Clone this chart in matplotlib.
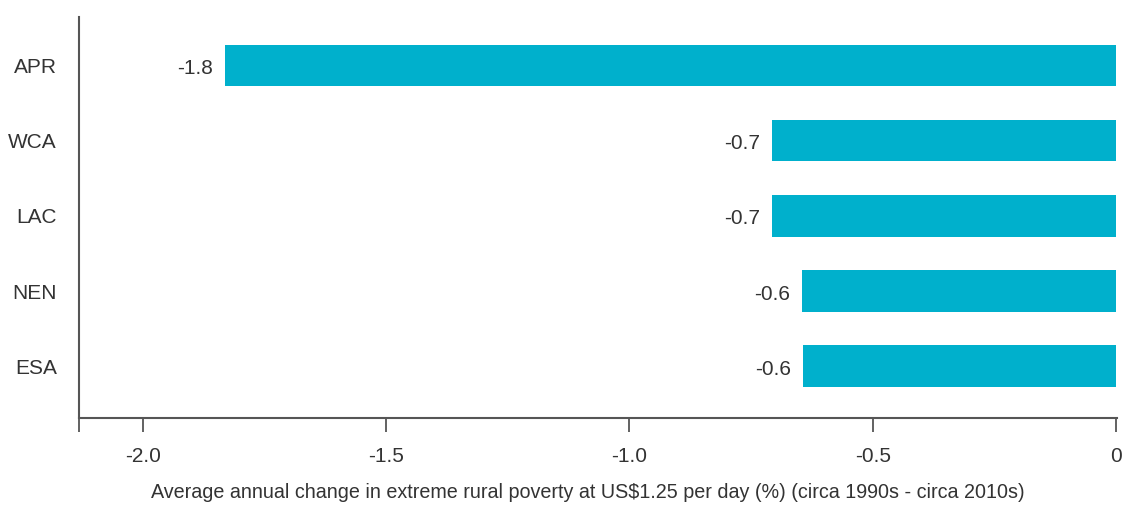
import numpy as np
import matplotlib.pyplot as plt
from matplotlib.ticker import FixedLocator, FuncFormatter

plt.rcParams['font.family'] = ['Liberation Sans', 'DejaVu Sans']

regions = ["APR", "WCA", "LAC", "NEN", "ESA"]
change = [-1.83, -0.707, -0.707, -0.645, -0.643]
labels = ["-1.8", "-0.7", "-0.7", "-0.6", "-0.6"]
xticks = [-2.0, -1.5, -1.0, -0.5, 0.0]

bar_col = "#00b0cc"
txt_col = "#333333"
axis_col = "#555555"

fig = plt.figure(figsize=(11.24, 5.05), dpi=100)
ax = fig.add_axes([79 / 1124, 1 - 418 / 505, (1117 - 79) / 1124, (418 - 17) / 505])

ypos = np.arange(len(regions))[::-1]
ax.barh(ypos, change, height=0.55, color=bar_col)

for y, v, lab in zip(ypos, change, labels):
    ax.text(v - 0.025, y - 0.04, lab, ha="right", va="center", fontsize=15, color=txt_col)

ax.set_xlim(-2.131, 0.002)
ax.set_ylim(-0.69, 4.647)

ax.set_yticks(ypos)
ax.set_yticklabels(regions)
ax.tick_params(axis="y", length=0, pad=16, labelsize=15, labelcolor=txt_col)

ax.xaxis.set_major_locator(FixedLocator(xticks))
ax.xaxis.set_major_formatter(FuncFormatter(lambda v, p: "0" if v == 0 else f"{v:.1f}"))
ax.xaxis.set_minor_locator(FixedLocator([-2.131]))
ax.tick_params(axis="x", which="both", length=10, width=1.3, color=axis_col,
               pad=11, labelsize=15, labelcolor=txt_col)

for s in ["top", "right"]:
    ax.spines[s].set_visible(False)
for s in ["left", "bottom"]:
    ax.spines[s].set_color(axis_col)
    ax.spines[s].set_linewidth(1.5)

ax.set_xlabel("Average annual change in extreme rural poverty at US$1.25 per day (%) (circa 1990s - circa 2010s)",
              fontsize=14.2, color=txt_col, va="center")
ax.xaxis.set_label_coords((588 - 79) / (1117 - 79), -(492 - 418) / (418 - 17))

fig.savefig("out.png", dpi=100)
